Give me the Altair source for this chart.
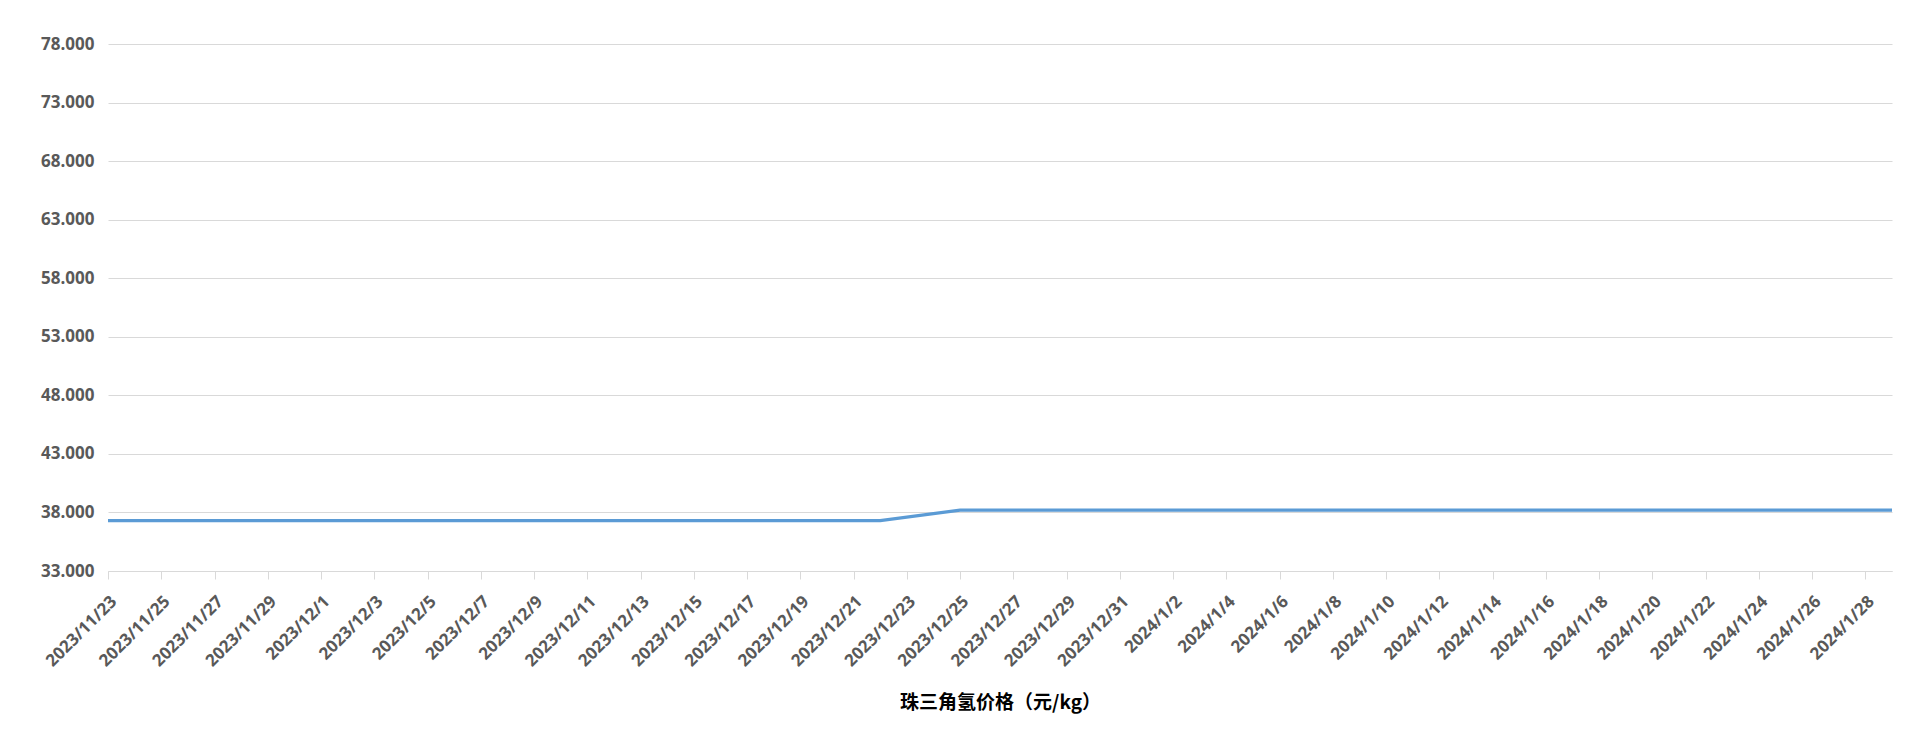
import altair as alt
import pandas as pd

dates = [
    "2023/11/23", "2023/11/24", "2023/11/27", "2023/11/28", "2023/11/29", "2023/11/30",
    "2023/12/1", "2023/12/4", "2023/12/5", "2023/12/6", "2023/12/7", "2023/12/8",
    "2023/12/11", "2023/12/12", "2023/12/13", "2023/12/14", "2023/12/15",
    "2023/12/18", "2023/12/19", "2023/12/20", "2023/12/21", "2023/12/22",
    "2023/12/25", "2023/12/26", "2023/12/27", "2023/12/28", "2023/12/29",
    "2024/1/1", "2024/1/2", "2024/1/3", "2024/1/4", "2024/1/5",
    "2024/1/8", "2024/1/9", "2024/1/10", "2024/1/11", "2024/1/12",
    "2024/1/15", "2024/1/16", "2024/1/17", "2024/1/18", "2024/1/19",
    "2024/1/22", "2024/1/23", "2024/1/24", "2024/1/25", "2024/1/26",
    "2024/1/29",
]
prices = [
    37.3, 37.3, 37.3, 37.3, 37.3, 37.3,
    37.3, 37.3, 37.3, 37.3, 37.3, 37.3,
    37.3, 37.3, 37.3, 37.3, 37.3,
    37.3, 37.3, 37.3, 37.3, 37.3,
    38.2, 38.2, 38.2, 38.2, 38.2,
    38.2, 38.2, 38.2, 38.2, 38.2,
    38.2, 38.2, 38.2, 38.2, 38.2,
    38.2, 38.2, 38.2, 38.2, 38.2,
    38.2, 38.2, 38.2, 38.2, 38.2,
    38.2,
]
y_ticks = [33, 38, 43, 48, 53, 58, 63, 68, 73, 78]
x_tick_dates = [d.to_pydatetime() for d in pd.date_range("2023-11-23", "2024-01-28", freq="2D")]
series_name = "珠三角氢价格（元/kg）"

df = pd.DataFrame({"date": dates, "price": prices})

x_ticks = [alt.DateTime(year=d.year, month=d.month, date=d.day) for d in x_tick_dates]

chart = (
    alt.Chart(df)
    .mark_line(color="#5b9bd5", strokeWidth=3.2)
    .encode(
        x=alt.X(
            "date:T",
            title=series_name,
            scale=alt.Scale(
                domain=[alt.DateTime(year=2023, month=11, date=23),
                        alt.DateTime(year=2024, month=1, date=29)],
                nice=False,
            ),
            axis=alt.Axis(
                values=x_ticks,
                format="%Y/%-m/%-d",
                labelAngle=-45,
                labelFont="Open Sans",
                labelFontWeight="bold",
                labelFontSize=17,
                labelColor="#595959",
                labelPadding=14,
                labelOverlap=False,
                labelFlush=False,
                grid=False,
                domainColor="#d9d9d9",
                domainWidth=1,
                tickColor="#d9d9d9",
                tickSize=8,
                titleFont="Noto Sans CJK SC",
                titleFontSize=19,
                titleFontWeight="bold",
                titleColor="#000000",
                titlePadding=24,
            ),
        ),
        y=alt.Y(
            "price:Q",
            title=None,
            scale=alt.Scale(domain=[33, 78], nice=False, zero=False),
            axis=alt.Axis(
                values=y_ticks,
                format=".3f",
                labelFont="Open Sans",
                labelFontWeight="bold",
                labelFontSize=17,
                labelColor="#595959",
                labelPadding=14,
                ticks=False,
                domain=False,
                gridColor="#d9d9d9",
                gridWidth=1,
            ),
        ),
    )
    .properties(
        width=1784,
        height=527,
        padding={"left": 100, "top": 36, "right": 20, "bottom": 150},
        autosize=alt.AutoSizeParams(type="none"),
        background="white",
    )
    .configure_view(strokeWidth=0, stroke="transparent")
)

chart.save("out.html", embed_options={"renderer": "svg", "actions": False})
